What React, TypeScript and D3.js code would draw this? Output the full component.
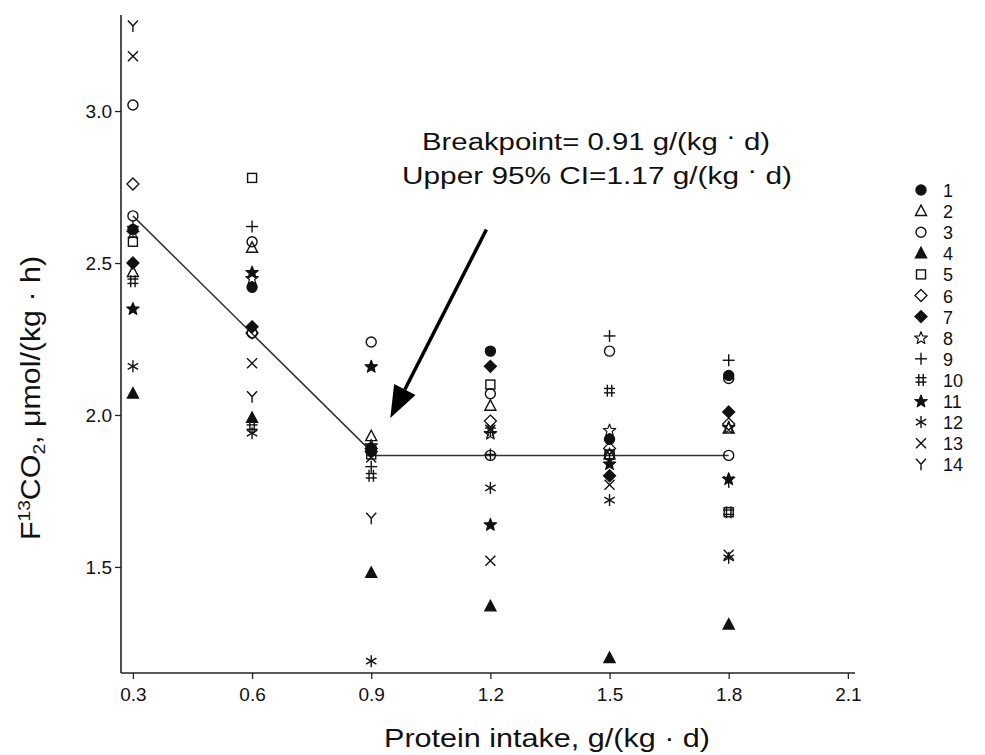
import React, { useRef, useEffect } from 'react';
import * as d3 from 'd3';

// protein intake levels, g/(kg·d)
const intake = [0.3, 0.6, 0.9, 1.2, 1.5, 1.8];

// F13CO2 per participant at each intake level
const p1 = [2.61, 2.42, 1.89, 2.21, 1.92, 2.13];
const p2 = [2.47, 2.55, 1.93, 2.03, 1.87, 1.955];
const p3 = [3.02, 2.57, 2.24, 2.07, 2.21, 2.12];
const p4 = [2.07, 1.99, 1.48, 1.37, 1.2, 1.31];
const p5 = [2.57, 2.78, 1.87, 2.1, 1.87, 1.68];
const p6 = [2.76, 2.27, 1.89, 1.98, 1.89, 1.97];
const p7 = [2.5, 2.29, 1.88, 2.16, 1.8, 2.01];
const p8 = [2.6, 2.45, 1.9, 1.94, 1.95, 1.96];
const p9 = [2.62, 2.62, 1.83, 1.87, 2.26, 2.18];
const p10 = [2.44, 1.96, 1.8, 1.95, 2.08, 1.68];
const p11 = [2.35, 2.47, 2.16, 1.64, 1.84, 1.79];
const p12 = [2.16, 1.94, 1.19, 1.76, 1.72, 1.53];
const p13 = [3.18, 2.17, 1.86, 1.52, 1.77, 1.54];
const p14 = [3.28, 2.06, 1.66, 1.95, 1.87, 1.78];

const participants = [p1, p2, p3, p4, p5, p6, p7, p8, p9, p10, p11, p12, p13, p14];
const symbols = ['circleF', 'triangle', 'circle', 'triangleF', 'square', 'diamond', 'diamondF',
  'star', 'plus', 'hash', 'starF', 'asterisk', 'cross', 'y'];
const legendLabels = ['1', '2', '3', '4', '5', '6', '7', '8', '9', '10', '11', '12', '13', '14'];

// breakpoint fit
const fitX = [0.3, 0.91, 1.8];
const fitY = [2.655, 1.867, 1.867];
const fitAtLevels = [2.655, 2.27, 1.88, 1.867, 1.867, 1.867];

const xTicks = [0.3, 0.6, 0.9, 1.2, 1.5, 1.8, 2.1];
const yTicks = [1.5, 2.0, 2.5, 3.0];

// arrow from / to, data units
const arrowFrom = [1.19, 2.61];
const arrowTo = [0.948, 1.99];

function drawSymbol(g, type, cx, cy) {
  const s = 5.5;
  const ink = '#111';
  const at = g.append('g').attr('transform', `translate(${cx},${cy})`);
  const line = (x1, y1, x2, y2) => at.append('line')
    .attr('x1', x1).attr('y1', y1).attr('x2', x2).attr('y2', y2)
    .attr('stroke', ink).attr('stroke-width', 1.4);
  const filled = type.endsWith('F');
  const base = filled ? type.slice(0, -1) : type;
  const fillAttr = filled ? ink : 'none';
  if (base === 'circle') {
    at.append('circle').attr('r', 5).attr('fill', fillAttr).attr('stroke', ink).attr('stroke-width', 1.4);
  } else if (base === 'triangle') {
    at.append('path').attr('d', `M0,${-s - 0.5}L${s},${s * 0.8}L${-s},${s * 0.8}Z`)
      .attr('fill', fillAttr).attr('stroke', ink).attr('stroke-width', 1.4);
  } else if (base === 'square') {
    at.append('rect').attr('x', -4.5).attr('y', -4.5).attr('width', 9).attr('height', 9)
      .attr('fill', 'none').attr('stroke', ink).attr('stroke-width', 1.4);
  } else if (base === 'diamond') {
    at.append('path').attr('d', `M0,-6L6,0L0,6L-6,0Z`)
      .attr('fill', fillAttr).attr('stroke', ink).attr('stroke-width', 1.3);
  } else if (base === 'star') {
    const pts = d3.range(10).map(i => {
      const a = -Math.PI / 2 + i * Math.PI / 5;
      const r = i % 2 === 0 ? 6.5 : 2.8;
      return [r * Math.cos(a), r * Math.sin(a) + 0.5];
    });
    at.append('path').attr('d', 'M' + pts.join('L') + 'Z')
      .attr('fill', fillAttr).attr('stroke', ink).attr('stroke-width', 1.2).attr('stroke-linejoin', 'round');
  } else if (base === 'plus') {
    line(0, -6, 0, 6);
    line(-6, 0, 6, 0);
  } else if (base === 'hash') {
    line(-2.2, -6, -2.2, 6);
    line(2.2, -6, 2.2, 6);
    line(-5.5, -2.2, 5.5, -2.2);
    line(-5.5, 2.2, 5.5, 2.2);
  } else if (base === 'asterisk') {
    line(0, -6, 0, 6);
    line(-5.2, -3, 5.2, 3);
    line(-5.2, 3, 5.2, -3);
  } else if (base === 'cross') {
    line(-5, -5, 5, 5);
    line(-5, 5, 5, -5);
  } else if (base === 'y') {
    line(-5, -5.5, 0, 0);
    line(5, -5.5, 0, 0);
    line(0, 0, 0, 6);
  }
}

function Chart() {
  const ref = useRef(null);

  useEffect(() => {
    const width = 985;
    const height = 755;
    const left = 121;
    const right = 855;
    const top = 15;
    const bottom = 673;
    const font = 'Liberation Sans, Arial, sans-serif';

    const x = d3.scaleLinear().domain([0.27, 2.118]).range([left, right]);
    const y = d3.scaleLinear().domain([1.151, 3.316]).range([bottom, top]);

    const svg = d3.select(ref.current)
      .append('svg')
      .attr('width', width)
      .attr('height', height)
      .attr('viewBox', [0, 0, width, height])
      .style('position', 'absolute')
      .style('left', 0)
      .style('top', 0)
      .style('background', '#fff');

    // axes
    svg.append('g')
      .attr('transform', `translate(0,${bottom})`)
      .attr('font-size', 19)
      .call(d3.axisBottom(x).tickValues(xTicks).tickFormat(d3.format('.1f')).tickSize(6).tickSizeOuter(0))
      .call(g => g.attr('font-size', 19).attr('font-family', font))
      .call(g => g.select('.domain').attr('stroke', '#222').attr('stroke-width', 1.6).attr('d', `M${left},0H${right}`))
      .call(g => g.selectAll('.tick line').attr('stroke', '#222').attr('stroke-width', 1.3))
      .call(g => g.selectAll('.tick text')
        .attr('font-size', 19).attr('fill', '#111')
        .attr('y', 10).attr('dy', '0.95em'));

    svg.append('g')
      .attr('transform', `translate(${left},0)`)
      .call(d3.axisLeft(y).tickValues(yTicks).tickFormat(d3.format('.1f')).tickSize(6).tickSizeOuter(0))
      .call(g => g.attr('font-size', 19).attr('font-family', font))
      .call(g => g.select('.domain').attr('stroke', '#222').attr('stroke-width', 1.6).attr('d', `M0,${top}V${bottom}`))
      .call(g => g.selectAll('.tick line').attr('stroke', '#222').attr('stroke-width', 1.3))
      .call(g => g.selectAll('.tick text')
        .attr('font-size', 19).attr('fill', '#111').attr('x', -9));

    // fit line
    const fitLine = d3.line().x(d => x(d[0])).y(d => y(d[1]));
    svg.append('path')
      .attr('d', fitLine(fitX.map((v, i) => [v, fitY[i]])))
      .attr('fill', 'none').attr('stroke', '#333').attr('stroke-width', 1.5);

    const marks = svg.append('g');
    intake.forEach((v, i) => drawSymbol(marks, 'circle', x(v), y(fitAtLevels[i])));

    participants.forEach((vals, pi) => {
      vals.forEach((val, i) => drawSymbol(marks, symbols[pi], x(intake[i]), y(val)));
    });

    // legend
    const legend = svg.append('g');
    legendLabels.forEach((lab, i) => {
      const ly = 190 + i * 21.1;
      drawSymbol(legend, symbols[i], 921, ly);
      legend.append('text').attr('x', 943).attr('y', ly + 7)
        .attr('font-family', font).attr('font-size', 18).attr('fill', '#111').text(lab);
    });

    // arrow
    const ax0 = x(arrowFrom[0]), ay0 = y(arrowFrom[1]);
    const ax1 = x(arrowTo[0]), ay1 = y(arrowTo[1]);
    const ang = Math.atan2(ay1 - ay0, ax1 - ax0);
    const headLen = 32, headW = 12;
    const bx = ax1 - headLen * Math.cos(ang), by = ay1 - headLen * Math.sin(ang);
    svg.append('line').attr('x1', ax0).attr('y1', ay0).attr('x2', bx).attr('y2', by)
      .attr('stroke', '#000').attr('stroke-width', 3.5);
    const nx = -Math.sin(ang), ny = Math.cos(ang);
    svg.append('path')
      .attr('d', `M${ax1},${ay1}L${bx + nx * headW},${by + ny * headW}L${bx - nx * headW},${by - ny * headW}Z`)
      .attr('fill', '#000');

    // annotation
    const ann = svg.append('g').attr('font-family', font).attr('font-size', 23).attr('fill', '#111');
    const t1 = ann.append('text').attr('x', 422).attr('y', 150)
      .attr('textLength', 348).attr('lengthAdjust', 'spacingAndGlyphs');
    t1.append('tspan').text('Breakpoint= 0.91 g/(kg ');
    t1.append('tspan').attr('dy', -6).text('·');
    t1.append('tspan').attr('dy', 6).text(' d)');
    const t2 = ann.append('text').attr('x', 402).attr('y', 184)
      .attr('textLength', 390).attr('lengthAdjust', 'spacingAndGlyphs');
    t2.append('tspan').text('Upper 95% CI=1.17 g/(kg ');
    t2.append('tspan').attr('dy', -6).text('·');
    t2.append('tspan').attr('dy', 6).text(' d)');

    // axis titles
    svg.append('text')
      .attr('x', 547).attr('y', 747)
      .attr('text-anchor', 'middle')
      .attr('font-family', font).attr('font-size', 25).attr('fill', '#111')
      .attr('textLength', 326).attr('lengthAdjust', 'spacingAndGlyphs')
      .text('Protein intake, g/(kg · d)');

    const yt = svg.append('text')
      .attr('transform', 'translate(40,398) rotate(-90)')
      .attr('text-anchor', 'middle')
      .attr('font-family', font).attr('font-size', 27).attr('fill', '#111')
      .attr('textLength', 284).attr('lengthAdjust', 'spacingAndGlyphs');
    yt.append('tspan').text('F');
    yt.append('tspan').attr('font-size', 17).attr('dy', -10).text('13');
    yt.append('tspan').attr('dy', 10).text('CO');
    yt.append('tspan').attr('font-size', 17).attr('dy', 5).text('2');
    yt.append('tspan').attr('dy', -5).text(', μmol/(kg · h)');
  }, []);

  return <div ref={ref}></div>;
}

export default function App() {
  return <Chart />;
}
